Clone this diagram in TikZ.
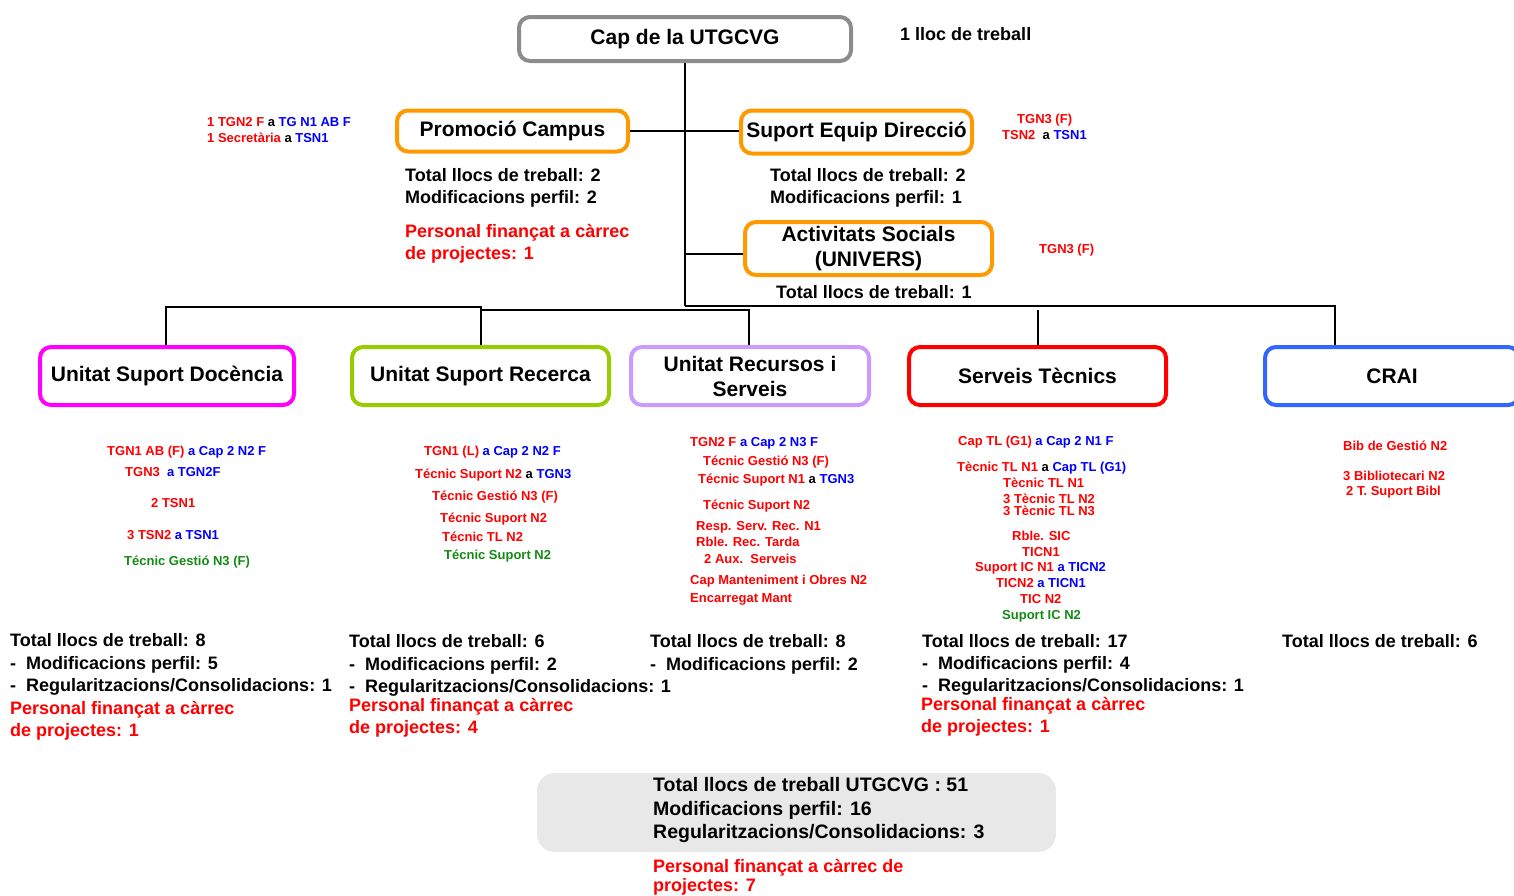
\documentclass[tikz,border=0pt]{standalone}
\usepackage{fontspec}
\setmainfont{Liberation Sans}
\definecolor{cred}{HTML}{FF0000}
\definecolor{cblue}{HTML}{0000FF}
\definecolor{cgreen}{HTML}{138A13}
\definecolor{cgray}{HTML}{8C8C8C}
\definecolor{corange}{HTML}{FF9900}
\definecolor{cmag}{HTML}{FF00FF}
\definecolor{clime}{HTML}{99CC00}
\definecolor{clav}{HTML}{CC99FF}
\definecolor{cbluebox}{HTML}{3366FF}
\definecolor{cpanel}{HTML}{E8E8E8}
\begin{document}
\begin{tikzpicture}[x=1pt,y=-1pt,
  box/.style={draw, line width=4pt, rounded corners=11pt, fill=white, align=center,
    font=\fontsize{21}{25}\selectfont\bfseries, inner sep=0pt},
  lbl/.style={anchor=base west, inner sep=0pt, font=\fontsize{18}{22}\selectfont\bfseries},
  big/.style={anchor=base west, inner sep=0pt, font=\fontsize{19.5}{23}\selectfont\bfseries},
  sm/.style={anchor=base west, inner sep=0pt, font=\fontsize{13}{15}\selectfont\bfseries, text=cred},
  conn/.style={draw=black, line width=1.2pt}]
\useasboundingbox (0,0) rectangle (1514,895);
\clip (0,0) rectangle (1514,895);

% ---- boxes ----
\node[box, draw=cgray, minimum width=332, minimum height=44] (cap) at (685,39) {Cap de la UTGCVG};
\node[box, draw=corange, minimum width=231, minimum height=41] (prom) at (512.5,131) {Promoció Campus};
\node[box, draw=corange, minimum width=231, minimum height=43] (sed) at (856.5,132) {Suport Equip Direcció};
\node[box, draw=corange, minimum width=247, minimum height=53] (act) at (868.5,248.5) {Activitats Socials\\(UNIVERS)};
\node[box, draw=cmag, minimum width=254, minimum height=58] (doc) at (167,376) {Unitat Suport Docència};
\node[box, draw=clime, minimum width=257, minimum height=58] (rec) at (480.5,376) {Unitat Suport Recerca};
\node[box, draw=clav, minimum width=238, minimum height=58] (urs) at (750,376) {Unitat Recursos i\\Serveis};
\node[box, draw=cred, minimum width=257, minimum height=58] (st) at (1037.5,376) {Serveis Tècnics};
\node[box, draw=cbluebox, minimum width=254, minimum height=58] (crai) at (1392,376) {CRAI};
\node[fill=cpanel, rounded corners=18pt, minimum width=519, minimum height=79, inner sep=0pt] (panel) at (796.5,812.5) {};

% ---- connectors ----
\coordinate (j1) at (685,306);
\coordinate (ja) at (685,254);
\coordinate (jl) at (166,307);
\coordinate (jr) at (481,307);
\coordinate (jr2) at (481,310);
\coordinate (ju) at (749,310);
\coordinate (jc) at (1335,306);
\coordinate (jst) at (1038,310);
\draw[conn] (cap.south) -- (j1);
\draw[conn] (prom.east) -- (prom.east -| sed.west);
\draw[conn] (ja) -- (act.west |- ja);
\draw[conn] (j1) -- (jc) -- (crai.north -| jc);
\draw[conn] (doc.north -| jl) -- (jl) -- (jr) -- (rec.north -| jr);
\draw[conn] (jr2) -- (ju) -- (urs.north -| ju);
\draw[conn] (jst) -- (st.north -| jst);

% ---- top texts ----
\node[lbl] (lloc) at (900,40.5) {1 lloc de treball};
\node[sm, text=black] (a1) at (207,126.7) {\textcolor{cred}{1 TGN2 F} a \textcolor{cblue}{TG N1 AB F}};
\node[sm, text=black] (a2) at (207,142.7) {\textcolor{cred}{1 Secretària} a \textcolor{cblue}{TSN1}};
\node[lbl] (p1) at (405,181.5) {Total llocs de treball: 2};
\node[lbl] (p2) at (405,203.5) {Modificacions perfil: 2};
\node[lbl, text=cred] (p3) at (405,237.5) {Personal finançat a càrrec};
\node[lbl, text=cred] (p4) at (405,259.5) {de projectes: 1};
\node[lbl] (s1) at (770,181.5) {Total llocs de treball: 2};
\node[lbl] (s2) at (770,203.5) {Modificacions perfil: 1};
\node[sm] (b1) at (1017,123.7) {TGN3 (F)};
\node[sm, text=black] (b2) at (1002,139.7) {\textcolor{cred}{TSN2}\ \ a \textcolor{cblue}{TSN1}};
\node[sm] (b3) at (1039,253.7) {TGN3 (F)};
\node[lbl] (act1) at (776,298.5) {Total llocs de treball: 1};

% ---- column 1 ----
\node[sm] (c1a) at (107,455.7) {TGN1 AB (F) \textcolor{cblue}{a Cap 2 N2 F}};
\node[sm] (c1b) at (125,476.7) {TGN3\ \ \textcolor{cblue}{a TGN2F}};
\node[sm] (c1c) at (151,507.7) {2 TSN1};
\node[sm] (c1d) at (127,539.7) {3 TSN2 \textcolor{cblue}{a TSN1}};
\node[sm, text=cgreen] (c1e) at (124,565.7) {Técnic Gestió N3 (F)};
\node[lbl] (d1) at (10,646.5) {Total llocs de treball: 8};
\node[lbl] (d2) at (10,669.5) {-\ \ Modificacions perfil: 5};
\node[lbl] (d3) at (10,691.5) {-\ \ Regularitzacions/Consolidacions: 1};
\node[lbl, text=cred] (d4) at (10,714.5) {Personal finançat a càrrec};
\node[lbl, text=cred] (d5) at (10,736.5) {de projectes: 1};

% ---- column 2 ----
\node[sm] (c2a) at (424,455.7) {TGN1 (L) \textcolor{cblue}{a Cap 2 N2 F}};
\node[sm] (c2b) at (415,478.7) {Técnic Suport N2 \textcolor{black}{a} \textcolor{cblue}{TGN3}};
\node[sm] (c2c) at (432,500.7) {Técnic Gestió N3 (F)};
\node[sm] (c2d) at (440,522.7) {Técnic Suport N2};
\node[sm] (c2e) at (442,541.7) {Técnic TL N2};
\node[sm, text=cgreen] (c2f) at (444,559.7) {Técnic Suport N2};
\node[lbl] (e1) at (349,647.5) {Total llocs de treball: 6};
\node[lbl] (e2) at (349,670.5) {-\ \ Modificacions perfil: 2};
\node[lbl] (e3) at (349,692.5) {-\ \ Regularitzacions/Consolidacions: 1};
\node[lbl, text=cred] (e4) at (349,711.5) {Personal finançat a càrrec};
\node[lbl, text=cred] (e5) at (349,733.5) {de projectes: 4};

% ---- column 3 ----
\node[sm] (c3a) at (690,446.7) {TGN2 F \textcolor{cblue}{a Cap 2 N3 F}};
\node[sm] (c3b) at (703,465.7) {Técnic Gestió N3 (F)};
\node[sm] (c3c) at (698,483.7) {Técnic Suport N1 \textcolor{black}{a} \textcolor{cblue}{TGN3}};
\node[sm] (c3d) at (703,509.7) {Técnic Suport N2};
\node[sm] (c3e) at (696,530.7) {Resp. Serv. Rec. N1};
\node[sm] (c3f) at (696,546.7) {Rble. Rec. Tarda};
\node[sm] (c3g) at (704,563.7) {2 Aux.\ \ Serveis};
\node[sm] (c3h) at (690,584.7) {Cap Manteniment i Obres N2};
\node[sm] (c3i) at (690,602.7) {Encarregat Mant};
\node[lbl] (f1) at (650,647.5) {Total llocs de treball: 8};
\node[lbl] (f2) at (650,670.5) {-\ \ Modificacions perfil: 2};

% ---- column 4 ----
\node[sm] (c4a) at (958,445.7) {Cap TL (G1) \textcolor{cblue}{a Cap 2 N1 F}};
\node[sm] (c4b) at (957,471.7) {Tècnic TL N1 \textcolor{black}{a} \textcolor{cblue}{Cap TL (G1)}};
\node[sm] (c4c) at (1003,487.7) {Tècnic TL N1};
\node[sm] (c4d) at (1003,503.7) {3 Tècnic TL N2};
\node[sm] (c4e) at (1003,515.7) {3 Tècnic TL N3};
\node[sm] (c4f) at (1012,540.7) {Rble. SIC};
\node[sm] (c4g) at (1022,556.7) {TICN1};
\node[sm] (c4h) at (975,571.7) {Suport IC N1 \textcolor{cblue}{a TICN2}};
\node[sm] (c4i) at (996,587.7) {TICN2 \textcolor{cblue}{a TICN1}};
\node[sm] (c4j) at (1020,603.7) {TIC N2};
\node[sm, text=cgreen] (c4k) at (1002,619.7) {Suport IC N2};
\node[lbl] (g1) at (922,647.5) {Total llocs de treball: 17};
\node[lbl] (g2) at (922,669.5) {-\ \ Modificacions perfil: 4};
\node[lbl] (g3) at (922,691.5) {-\ \ Regularitzacions/Consolidacions: 1};
\node[lbl, text=cred] (g4) at (921,710.5) {Personal finançat a càrrec};
\node[lbl, text=cred] (g5) at (921,732.5) {de projectes: 1};

% ---- column 5 ----
\node[sm] (c5a) at (1343,450.7) {Bib de Gestió N2};
\node[sm] (c5b) at (1343,480.7) {3 Bibliotecari N2};
\node[sm] (c5c) at (1346,495.7) {2 T. Suport Bibl};
\node[lbl] (h1) at (1282,647.5) {Total llocs de treball: 6};

% ---- totals ----
\node[big] (t1) at (653,791) {Total llocs de treball UTGCVG : 51};
\node[big] (t2) at (653,815) {Modificacions perfil: 16};
\node[big] (t3) at (653,838) {Regularitzacions/Consolidacions: 3};
\node[lbl, text=cred] (t4) at (653,872) {Personal finançat a càrrec de};
\node[lbl, text=cred] (t5) at (653,891) {projectes: 7};
\end{tikzpicture}
\end{document}
